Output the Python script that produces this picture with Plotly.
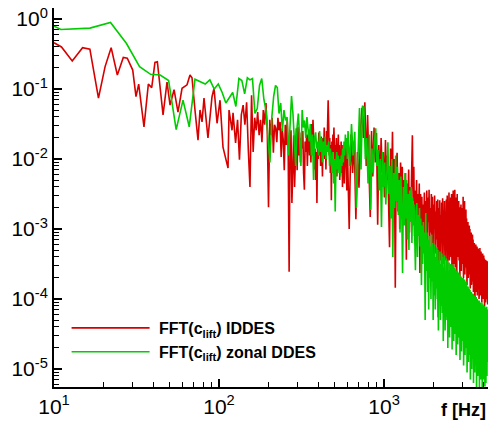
import numpy as np
import plotly.graph_objects as go

# ---- IDDES lift spectrum -------------------------------------------------
# low-frequency part: frequency [Hz] and log10 amplitude
red_f_low = [10.0, 11.1, 12.9, 14.9, 16.5, 18.6, 20.4, 22.2, 24.2, 26.3,
             27.8, 30.0, 31.4, 32.6, 35.1, 37.3, 39.1, 40.9, 42.3, 43.9,
             45.8, 48.4, 50.5, 53.4, 56.4, 59.7, 64.0, 66.7, 68.6, 71.5,
             74.6, 76.7, 78.9, 81.1, 85.7, 90.7, 93.3, 97.3, 101.4, 105.7,
             110.3, 113.4, 115.0, 119.9, 121.6]
red_lg_low = [-0.34, -0.40, -0.60, -0.41, -0.43, -1.13, -0.68, -0.41, -0.80, -0.55,
              -0.56, -0.73, -1.11, -0.93, -1.54, -0.93, -0.98, -0.62, -0.61, -0.98,
              -1.37, -0.90, -1.23, -1.01, -1.33, -0.99, -0.94, -0.80, -0.84, -1.30,
              -1.73, -1.30, -1.47, -1.13, -1.70, -1.11, -0.99, -1.49, -1.16, -1.83,
              -2.01, -2.13, -1.30, -1.59, -1.34]

# mid-frequency bins (start, step in Hz) and log10 amplitude
RED_MID_START, RED_MID_STEP = 126.0, 3.5
red_lg_mid = [
    -1.77, -1.44, -2.01, -1.37, -1.23, -1.51, -1.19, -1.87, -2.40, -1.09,
    -1.90, -1.41, -1.59, -1.33, -1.66, -1.44, -1.76, -1.30, -1.51, -1.20,
    -1.59, -2.69, -1.44, -1.66, -1.41, -1.91, -1.51, -1.56, -1.76, -1.41,
    -1.59, -1.47, -1.97, -1.56, -1.73, -2.16, -1.51, -1.80, -1.44, -1.87,
    -3.61, -1.73, -1.59, -2.63, -1.91, -1.66, -2.40, -1.73, -1.56, -2.16,
    -1.54, -1.95, -1.62, -2.05, -1.70, -1.85, -1.60, -2.20, -2.44, -1.75,
    -1.90, -1.65, -2.10, -1.72, -1.58, -1.95, -1.66, -2.05, -1.50, -1.80,
    -1.44, -1.70, -2.15, -1.85, -2.30, -1.90, -2.63, -1.80, -2.00, -1.62,
    -1.95, -1.75, -2.10, -1.68, -1.85, -2.25, -1.70, -1.90, -1.55, -2.00,
    -1.72, -2.15, -1.60, -1.85, -1.40, -1.16, -1.50, -1.95, -1.70, -2.20,
    -1.80, -2.59, -1.75, -2.00, -1.65, -1.90, -1.55, -1.73, -2.10, -1.80,
    -2.05, -1.70, -2.25, -1.85, -1.95, -1.65, -2.15, -1.80, -2.30, -1.90,
    -2.05, -1.75, -2.20, -1.85, -2.40, -1.80, -2.00, -1.82, -2.35, -1.95,
    -2.10, -1.83, -2.25, -1.95, -2.45, -2.05]

# high-frequency bins
RED_HIGH_START, RED_HIGH_STEP = 600.0, 15.0
red_lg_high = [
    -1.85, -3.00, -1.65, -2.20, -1.75, -2.86, -1.90, -2.41, -1.60, -1.27,
    -1.70, -1.19, -2.10, -1.37, -1.95, -2.83, -1.60, -2.25, -1.55, -2.05,
    -1.63, -2.94, -1.80, -2.40, -1.70, -2.20, -1.90, -2.55, -1.73, -2.30,
    -1.95, -2.60, -3.26, -1.85, -2.45, -1.61, -2.70, -2.00, -3.84, -2.10,
    -1.91, -2.75, -2.20, -3.00, -2.05, -2.60, -2.11, -2.90, -2.30, -2.70,
    -2.20, -3.44, -2.35, -2.85, -2.15, -3.05, -2.40, -2.70, -2.25, -1.66,
    -2.60, -2.11, -3.10, -2.45, -2.95, -2.30, -3.20, -2.50, -2.85, -2.35,
    -3.63, -2.50, -3.05, -2.54, -3.25, -2.65, -2.95, -2.48, -3.30, -2.60,
    -3.10, -2.45, -3.30, -2.55, -2.90, -2.44, -3.35, -2.70, -3.05, -2.50,
    -3.20, -2.54, -3.40, -2.65, -3.00, -2.52, -3.35, -2.75, -3.15, -2.60,
    -3.30, -2.58, -4.26, -2.70, -3.10, -2.59, -3.45, -2.80, -3.20, -2.62,
    -3.40, -2.56, -3.05, -2.75, -3.50, -2.60, -3.25, -2.85, -3.45, -2.58,
    -3.30, -2.52, -3.55, -2.70, -3.15, -2.48, -3.45, -2.80, -3.35, -2.55,
    -3.40, -2.50, -3.60, -2.65, -3.20, -2.45, -3.50, -2.75, -3.30, -2.44,
    -3.55, -2.55, -3.25, -2.70, -3.60, -2.50, -3.40, -2.85, -3.15, -2.60,
    -3.45, -2.69, -3.70, -2.80, -3.30, -2.65, -3.60, -2.90, -3.40, -2.70,
    -3.50, -2.54, -3.70, -2.75, -3.35, -2.60, -3.65, -2.85, -3.45, -2.72,
    -3.55, -2.85, -3.80, -2.97, -3.40, -2.90, -3.70, -3.05, -3.50, -2.95,
    -3.65, -3.00, -3.85, -3.10, -3.55, -3.05, -3.80, -3.15, -3.60, -3.08,
    -3.75, -3.15, -3.90, -3.25, -3.60, -3.20, -3.85, -4.26, -3.30, -3.70,
    -3.22, -3.90, -3.35, -3.75, -3.25, -3.95, -3.40, -3.70, -3.28, -3.85,
    -3.30, -4.00, -3.40, -3.80, -3.27, -3.95, -3.45, -3.75, -3.32, -3.90,
    -3.34, -4.05, -3.45, -3.85, -3.35, -4.00, -3.50, -3.80, -3.38, -3.95,
    -3.42, -4.10, -3.50, -3.90, -3.44, -4.05, -3.55, -3.85, -3.45, -4.00,
    -3.60, -3.95, -3.46, -4.08]

# ---- zonal DDES lift spectrum --------------------------------------------
# bins k*GREEN_DF, k = 1..109, log10 amplitude
GREEN_DF = 5.5
green_lg_low = [
    0.20, -0.15, -0.13, -0.05, -0.35, -0.68, -0.79, -0.80, -0.88, -1.58,
    -1.16, -1.54, -0.86, -0.90, -0.93, -0.87, -1.00, -0.93, -1.05, -1.20,
    -1.12, -1.05, -1.25, -0.85, -0.88, -1.07, -0.84, -0.87, -0.85, -1.35,
    -1.28, -0.95, -0.85, -1.15, -1.30, -1.75, -2.05, -1.40, -1.10, -0.95,
    -0.98, -1.35, -1.20, -1.60, -1.30, -1.45, -1.40, -1.95, -1.60, -1.10,
    -1.35, -1.70, -2.10, -1.55, -1.35, -1.70, -2.10, -1.30, -1.55, -1.45,
    -1.70, -1.40, -1.60, -1.75, -1.50, -1.95, -1.65, -2.30, -1.70, -1.62,
    -1.85, -1.75, -1.95, -1.60, -1.90, -1.70, -2.05, -1.75, -1.95, -1.68,
    -2.00, -1.80, -1.90, -1.75, -2.10, -1.85, -2.00, -2.20, -1.90, -2.35,
    -2.00, -2.75, -2.05, -1.90, -2.15, -1.95, -2.20, -2.00, -2.25, -1.95,
    -2.10, -1.85, -2.05, -1.75, -1.95, -1.65, -1.85, -1.70, -2.00]

GREEN_HIGH_START, GREEN_HIGH_STEP = 605.0, 15.0
green_lg_high = [
    -1.60, -2.10, -1.50, -1.95, -1.61, -2.70, -1.80, -1.27, -2.15, -1.24,
    -1.26, -2.00, -1.70, -2.35, -1.65, -2.73, -1.85, -2.20, -1.75, -1.56,
    -2.10, -1.87, -2.45, -2.00, -2.97, -1.90, -2.40, -2.05, -2.65, -1.95,
    -1.76, -2.50, -2.10, -2.85, -2.00, -3.40, -2.20, -2.70, -1.95, -2.60,
    -2.11, -2.80, -2.30, -3.05, -2.25, -2.70, -3.63, -2.40, -2.95, -2.20,
    -2.85, -2.30, -3.15, -2.50, -3.30, -2.45, -2.90, -2.40, -3.20, -2.55,
    -2.95, -2.65, -3.30, -3.59, -2.75, -2.63, -3.40, -2.80, -3.10, -2.70,
    -3.25, -2.85, -3.80, -2.95, -3.50, -2.90, -3.35, -3.05, -4.30, -2.77,
    -3.60, -3.05, -3.90, -3.15, -4.15, -3.10, -3.70, -3.25, -4.00, -3.08,
    -3.75, -3.20, -4.30, -3.35, -3.95, -3.22, -4.15, -3.40, -3.85, -3.26,
    -4.00, -3.30, -4.45, -3.45, -3.90, -3.32, -4.30, -3.50, -4.10, -3.35,
    -4.20, -3.40, -4.60, -3.55, -4.05, -3.38, -4.45, -3.60, -4.25, -3.42,
    -4.30, -3.45, -4.70, -3.60, -4.15, -3.48, -4.55, -3.70, -4.35, -3.50,
    -4.40, -3.52, -4.72, -3.65, -4.20, -3.50, -4.60, -3.75, -4.45, -3.55,
    -4.50, -3.58, -4.80, -3.70, -4.30, -3.60, -4.65, -3.80, -4.40, -3.62,
    -4.55, -3.65, -4.87, -3.80, -4.35, -3.68, -4.75, -3.85, -4.50, -3.70,
    -4.60, -3.70, -4.95, -3.85, -4.45, -3.72, -4.80, -3.90, -4.55, -3.75,
    -4.70, -3.80, -5.05, -3.95, -4.50, -3.82, -4.90, -4.00, -4.65, -3.85,
    -4.80, -3.87, -5.15, -4.00, -4.60, -3.90, -5.00, -4.05, -4.75, -3.92,
    -4.85, -3.93, -5.20, -4.05, -4.65, -3.95, -5.05, -4.10, -4.80, -3.97,
    -4.90, -3.97, -5.30, -4.10, -4.70, -4.00, -5.10, -4.15, -4.85, -4.02,
    -4.95, -4.02, -5.30, -4.15, -4.75, -4.05, -5.15, -4.20, -4.90, -4.06,
    -5.00, -4.05, -5.30, -4.20, -4.80, -4.08, -5.15, -4.25, -4.95, -4.10,
    -5.05, -4.10, -5.25, -4.22, -4.85, -4.12, -5.20, -4.25, -4.95, -4.11,
    -5.10, -4.20, -4.90, -4.15]

# ---- axis ticks -----------------------------------------------------------
x_tick_vals = [10, 100, 1000]
x_tick_text = ["10<sup>1</sup>", "10<sup>2</sup>", "10<sup>3</sup>"]
y_tick_vals = [1e-5, 1e-4, 1e-3, 1e-2, 1e-1, 1]
y_tick_text = ["10<sup>-5</sup>", "10<sup>-4</sup>", "10<sup>-3</sup>",
               "10<sup>-2</sup>", "10<sup>-1</sup>", "10<sup>0</sup>"]

series_names = ["\u00a0FFT(c<sub>lift</sub>) IDDES",
                "\u00a0FFT(c<sub>lift</sub>) zonal DDES"]

# ---- assemble spectra -----------------------------------------------------
red_f = np.concatenate([
    np.array(red_f_low),
    RED_MID_START + RED_MID_STEP * np.arange(len(red_lg_mid)),
    RED_HIGH_START + RED_HIGH_STEP * np.arange(len(red_lg_high)),
])
red_amp = 10.0 ** np.concatenate([red_lg_low, red_lg_mid, red_lg_high])

green_f = np.concatenate([
    GREEN_DF * np.arange(1, len(green_lg_low) + 1),
    GREEN_HIGH_START + GREEN_HIGH_STEP * np.arange(len(green_lg_high)),
])
green_amp = 10.0 ** np.concatenate([green_lg_low, green_lg_high])

FONT = "Liberation Sans, Arial, Helvetica, sans-serif"
RED = "rgb(214,0,0)"
GREEN = "rgb(0,204,0)"

fig = go.Figure()
fig.add_trace(go.Scatter(x=red_f, y=red_amp, mode="lines", name=series_names[0],
                         line=dict(color=RED, width=1.6)))
fig.add_trace(go.Scatter(x=green_f, y=green_amp, mode="lines", name=series_names[1],
                         line=dict(color=GREEN, width=1.6)))


def minor_log(lo, hi):
    return [m * 10.0 ** e for e in range(lo, hi) for m in range(2, 10)]


axis_common = dict(
    type="log", showline=True, linecolor="black", linewidth=2,
    ticks="inside", ticklen=8, tickwidth=1.5, tickcolor="black",
    showgrid=False, zeroline=False, mirror=False,
    tickfont=dict(family=FONT, size=21, color="black"),
)

fig.update_layout(
    width=488, height=423,
    margin=dict(l=54, r=0, t=8, b=36),
    paper_bgcolor="white", plot_bgcolor="white",
    font=dict(family=FONT, color="black"),
    xaxis=dict(axis_common, range=[1.0, 3.63],
               tickmode="array", tickvals=x_tick_vals, ticktext=x_tick_text,
               minor=dict(tickvals=minor_log(1, 4), ticks="inside", ticklen=5,
                          tickwidth=1, tickcolor="black", showgrid=False)),
    yaxis=dict(axis_common, range=[-5.257, 0.157],
               tickmode="array", tickvals=y_tick_vals, ticktext=y_tick_text,
               minor=dict(tickvals=minor_log(-6, 1), ticks="inside", ticklen=5,
                          tickwidth=1, tickcolor="black", showgrid=False)),
    showlegend=True,
    legend=dict(x=0.029, y=0.2005, xanchor="left", yanchor="top",
                bgcolor="rgba(0,0,0,0)", borderwidth=0,
                itemwidth=78, tracegroupgap=0,
                font=dict(family=FONT, size=16, color="black", weight="bold")),
    annotations=[dict(text="<b>f [Hz]</b>", xref="paper", yref="paper",
                      x=1.0, y=0, xanchor="right", yanchor="top", yshift=-11,
                      showarrow=False,
                      font=dict(family=FONT, size=18, color="black"))],
)

fig.write_html("out.html")
